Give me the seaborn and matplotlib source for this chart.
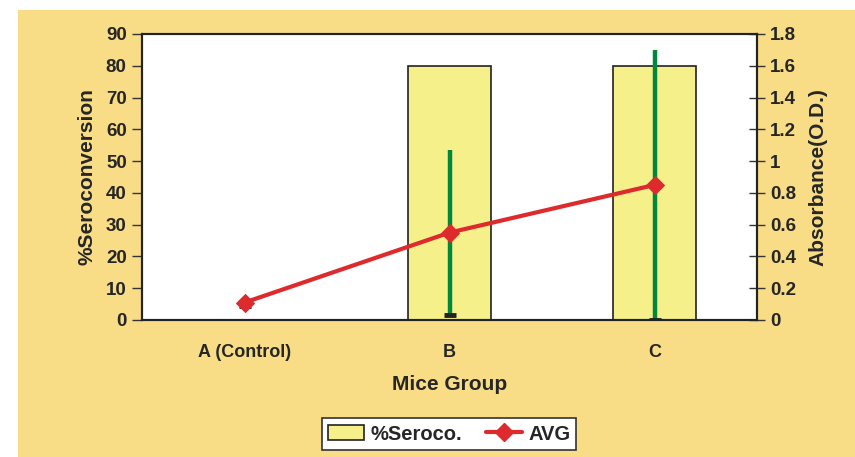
import matplotlib
matplotlib.use('Agg')
import matplotlib.pyplot as plt
import matplotlib.patches as mpatches
from matplotlib.lines import Line2D
import pandas as pd
import seaborn as sns

# chart values
groups = ['A (Control)', 'B', 'C']
seroconversion = [0, 80, 80]
avg_od = [0.11, 0.55, 0.85]
od_err = [0.02, 0.52, 0.85]
left_ticks = [0, 10, 20, 30, 40, 50, 60, 70, 80, 90]
right_ticks = [0, 0.2, 0.4, 0.6, 0.8, 1, 1.2, 1.4, 1.6, 1.8]

sns.set_style('white')
plt.rcParams['font.family'] = ['Liberation Sans', 'DejaVu Sans']
plt.rcParams['font.weight'] = 'bold'

bg = '#F8DD86'
bar_col = '#F6F08A'
red = '#DE2A2C'
green = '#00873E'

fig = plt.figure(figsize=(8.55, 4.57), dpi=100)
fig.patch.set_facecolor('white')
# orange panel behind everything (white strip on left/top like the source)
fig.patches.append(mpatches.Rectangle((18 / 855, 0), 1, 447 / 457, transform=fig.transFigure,
                                      facecolor=bg, edgecolor='none', zorder=-10))

ax = fig.add_axes([142 / 855, 137 / 457, 615 / 855, 286 / 457])
ax.set_facecolor('white')

df = pd.DataFrame({'group': groups, 'sero': seroconversion, 'od': avg_od, 'err': od_err})
sns.barplot(data=df, x='group', y='sero', order=groups, color=bar_col, width=0.405,
            edgecolor='#222222', linewidth=1.2, saturation=1, ax=ax)
ax.set_xlim(-0.5, 2.5)
ax.set_ylim(0, 90)
ax.set_yticks(left_ticks)
ax.set_yticklabels([str(t) for t in left_ticks], fontsize=13.5, fontweight='bold')
ax.set_xticks(range(len(groups)))
ax.set_xticklabels(groups, fontsize=13, fontweight='bold')
ax.set_xticks([-0.5, 0.5, 1.5, 2.5], minor=True)
ax.tick_params(axis='x', which='major', length=0, pad=17)
ax.tick_params(axis='x', which='minor', length=6, width=1.3, color='#333333', direction='out')
ax.tick_params(axis='y', length=7, width=1, color='#333333', direction='out', left=True, pad=4)
ax.set_xlabel('Mice Group', fontsize=15, fontweight='bold', labelpad=10)
ax.set_ylabel('%Seroconversion', fontsize=15, fontweight='bold', labelpad=7)
for s in ax.spines.values():
    s.set_color('#222222')
    s.set_linewidth(1.5)

ax2 = ax.twinx()
ax2.set_ylim(0, 1.8)
x = list(range(len(groups)))
lows = [m - e for m, e in zip(avg_od, od_err)]
highs = [m + e for m, e in zip(avg_od, od_err)]
ax2.vlines(x, lows, highs, color=green, linewidth=3.2, zorder=3)
ax2.plot(x, lows, linestyle='none', marker='_', markersize=8, mew=3.5, color='#222222', zorder=3)
sns.lineplot(x=x, y=avg_od, color=red, linewidth=3, marker='D', markersize=9,
             markeredgecolor=red, ax=ax2, zorder=4)
ax2.set_yticks(right_ticks)
ax2.set_yticklabels([f'{t:g}' for t in right_ticks], fontsize=13.5, fontweight='bold')
ax2.tick_params(axis='y', length=11, width=1, color='#333333', direction='inout', right=True, pad=4)
ax2.set_ylabel('Absorbance(O.D.)', fontsize=15, fontweight='bold', labelpad=9)
for s in ax2.spines.values():
    s.set_color('#222222')
    s.set_linewidth(1.5)

handles = [mpatches.Patch(facecolor=bar_col, edgecolor='#222222', linewidth=1.2),
           Line2D([0], [0], color=red, linewidth=3, marker='D', markersize=9)]
leg = fig.legend(handles, ['%Seroco.', 'AVG'], loc='center', bbox_to_anchor=(449 / 855, 23 / 457),
                 ncol=2, frameon=True, fancybox=False, prop={'size': 14.5, 'weight': 'bold'},
                 handlelength=1.8, handletextpad=0.3, columnspacing=1.2, borderpad=0.3,
                 framealpha=1)
leg.get_frame().set_facecolor('white')
leg.get_frame().set_edgecolor('#333333')
leg.get_frame().set_linewidth(1.2)

fig.savefig('out.png', dpi=100, facecolor=fig.get_facecolor())
